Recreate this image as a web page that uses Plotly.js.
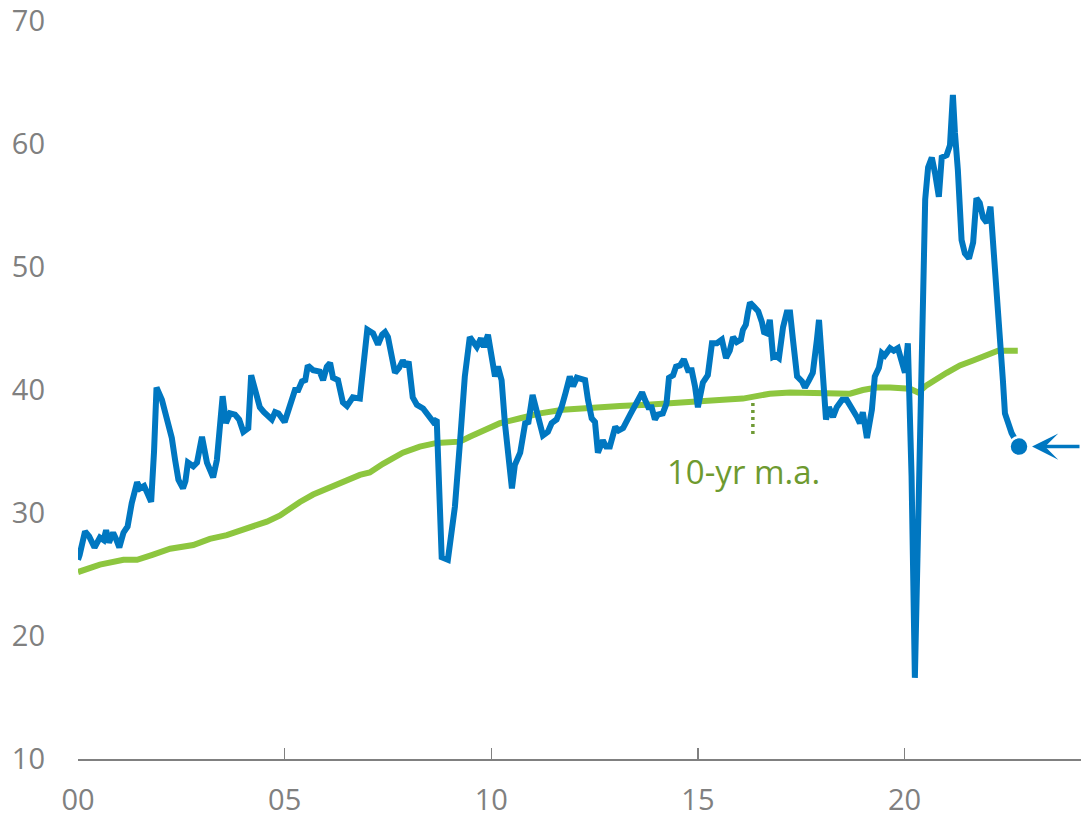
<!DOCTYPE html>
<html>
<head>
<meta charset="utf-8">
<script src="https://cdn.plot.ly/plotly-3.0.1.min.js"></script>
<style>
html,body{margin:0;padding:0;background:#fff;}
#chart{width:1081px;height:820px;}
</style>
</head>
<body>
<div id="chart"></div>
<script>
// Blue series (decimal years, values)
const seriesYears = [
2000.00,2000.04,2000.17,2000.27,2000.40,2000.53,2000.62,2000.68,2000.75,2000.85,2000.92,
2001.00,2001.10,2001.20,2001.30,2001.43,2001.50,2001.60,2001.68,2001.77,2001.84,2001.90,
2002.03,2002.15,2002.27,2002.35,2002.43,2002.54,2002.60,2002.66,2002.79,2002.88,
2003.00,2003.12,2003.27,2003.36,2003.45,2003.50,2003.58,2003.68,2003.80,2003.90,
2004.00,2004.12,2004.19,2004.28,2004.40,2004.50,2004.57,2004.69,2004.77,2004.85,
2005.00,2005.13,2005.25,2005.33,2005.42,2005.50,2005.56,2005.69,2005.85,2005.93,
2006.02,2006.10,2006.17,2006.29,2006.41,2006.51,2006.65,2006.82,2006.90,
2007.00,2007.14,2007.26,2007.36,2007.43,2007.50,2007.60,2007.67,2007.77,2007.86,2007.94,
2008.00,2008.10,2008.20,2008.35,2008.47,2008.60,2008.68,2008.72,2008.80,2008.95,
2009.12,2009.26,2009.36,2009.48,2009.58,2009.65,2009.75,2009.82,2009.92,
2010.00,2010.09,2010.16,2010.25,2010.33,2010.41,2010.50,2010.57,2010.70,2010.82,2010.90,
2011.00,2011.10,2011.18,2011.25,2011.37,2011.46,2011.58,2011.70,2011.80,2011.90,2011.98,
2012.07,2012.17,2012.27,2012.34,2012.43,2012.51,2012.58,2012.70,2012.78,2012.87,
2013.00,2013.08,2013.19,2013.36,2013.53,2013.65,2013.72,2013.80,2013.88,2013.96,
2014.03,2014.15,2014.24,2014.30,2014.40,2014.47,2014.57,2014.66,2014.76,2014.85,2014.93,
2015.00,2015.12,2015.24,2015.34,2015.46,2015.58,2015.68,2015.77,2015.85,2015.94,
2016.04,2016.09,2016.16,2016.21,2016.26,2016.35,2016.46,2016.55,2016.60,2016.67,2016.74,2016.82,2016.88,2016.96,
2017.06,2017.15,2017.23,2017.30,2017.40,2017.52,2017.59,2017.69,2017.78,2017.88,2017.93,
2018.00,2018.04,2018.10,2018.17,2018.27,2018.36,2018.49,2018.60,2018.72,2018.85,2018.92,2018.99,
2019.09,2019.21,2019.28,2019.38,2019.45,2019.52,2019.65,2019.74,2019.84,2019.94,
2020.01,2020.08,2020.17,2020.25,2020.33,2020.42,2020.50,2020.57,2020.66,2020.74,2020.83,2020.90,
2021.02,2021.10,2021.17,2021.22,2021.29,2021.38,2021.46,2021.56,2021.66,2021.74,2021.82,2021.90,2021.99,
2022.08,2022.17,2022.26,2022.38,2022.43,2022.50,2022.59,2022.77
];
const seriesValues = [
26.2,26.6,28.5,28.1,27.2,28.0,27.8,28.6,27.6,28.4,27.9,
27.2,28.4,28.9,30.8,32.5,32.0,32.2,31.6,30.9,35.0,40.2,
39.2,37.6,36.1,34.3,32.7,32.0,32.6,34.1,33.8,34.1,
36.2,34.1,32.9,34.3,37.0,39.5,37.3,38.1,38.0,37.6,
36.6,36.9,41.2,40.2,38.6,38.2,38.0,37.6,38.2,38.1,
37.4,38.6,40.0,40.0,40.7,40.8,42.0,41.6,41.5,40.8,
41.9,42.2,41.0,40.8,39.0,38.7,39.4,39.3,42.4,
44.9,44.6,43.7,44.5,44.7,44.3,42.8,41.4,41.8,42.4,41.9,
42.3,39.4,38.8,38.5,38.0,37.4,37.6,33.7,26.4,26.2,
30.5,36.5,41.1,44.3,43.9,43.5,44.2,43.5,44.5,
42.7,41.1,41.9,40.8,37.3,34.9,32.0,33.9,34.9,37.3,37.4,
39.6,38.4,37.3,36.3,36.6,37.3,37.6,38.6,39.8,41.1,40.3,
41.0,40.9,40.8,39.2,37.7,37.4,34.9,35.9,35.4,35.4,
37.0,36.7,36.9,38.0,39.0,39.8,39.2,38.6,38.6,37.6,
38.0,38.1,38.9,41.0,41.2,41.9,42.0,42.5,41.6,41.6,40.3,
38.6,40.6,41.2,43.8,43.8,44.1,42.6,43.2,44.3,43.9,
44.1,44.9,45.3,46.3,47.1,46.8,46.4,45.5,44.7,44.6,45.7,42.7,42.8,42.6,
45.1,46.3,46.3,44.1,41.1,40.7,40.2,40.8,41.4,44.1,45.7,
42.4,40.0,37.6,38.6,37.8,38.6,39.2,39.2,38.6,37.8,37.3,38.2,
36.1,38.4,41.1,41.8,43.0,42.8,43.4,43.2,43.4,42.4,
41.4,43.8,33.0,16.6,30.5,46.5,55.5,58.1,58.9,57.6,55.7,58.9,
59.1,59.9,64.0,60.9,57.9,52.2,51.1,50.7,52.0,55.6,55.2,54.0,53.6,
54.9,51.1,45.9,40.8,38.1,37.2,36.5,35.4
];
// Green 10-yr moving average
const maYears = [
2000.00,2000.53,2001.10,2001.43,2001.80,2002.23,2002.79,2003.19,2003.60,2004.24,2004.57,2004.89,
2005.05,2005.37,2005.69,2006.02,2006.41,2006.82,2007.06,2007.38,2007.86,2008.27,2008.68,
2009.00,2009.24,2009.48,2009.80,2010.21,2010.70,2011.18,2011.73,2012.39,2013.11,2013.77,
2014.40,2014.81,2015.29,2015.61,2016.09,2016.33,2016.74,2017.23,2018.03,2018.68,2018.99,
2019.33,2019.65,2020.13,2020.33,2020.54,2021.02,2021.34,2021.66,2021.99,2022.26,2022.74
];
const maValues = [
25.2,25.8,26.2,26.2,26.6,27.1,27.4,27.9,28.2,28.9,29.3,29.8,
30.2,30.9,31.5,32.0,32.6,33.1,33.3,34.0,34.9,35.4,35.7,
35.7,35.8,36.2,36.7,37.3,37.7,38.1,38.4,38.6,38.7,38.8,
38.9,39.0,39.1,39.2,39.3,39.45,39.7,39.8,39.7,39.7,40.0,
40.2,40.2,40.1,39.8,40.4,41.4,42.0,42.4,42.9,43.2,43.2
];
const xTickVals = [2000,2005,2010,2015,2020];
const xTickText = ['00','05','10','15','20'];
const yTickVals = [10,20,30,40,50,60,70];
const maLabel = '10-yr m.a.';
const maLabelYear = 2016.33;
const maLabelTextYear = 2016.1;
const maLabelTextValue = 33.4;
const maLeaderBottom = 36.1;

const BLUE = '#0077c1';
const GREEN = '#8dc63f';
const GREY = '#808080';

const lastX = seriesYears[seriesYears.length-1];
const lastY = seriesValues[seriesValues.length-1];
const maAtLabel = maValues[maYears.indexOf(maLabelYear)];

const traces = [
  {x: maYears, y: maValues, type:'scatter', mode:'lines',
   line:{color:GREEN, width:6}, hoverinfo:'skip'},
  {x: seriesYears, y: seriesValues, type:'scatter', mode:'lines',
   line:{color:BLUE, width:6}, hoverinfo:'skip'},
  {x:[lastX], y:[lastY], type:'scatter', mode:'markers', cliponaxis:false,
   marker:{color:BLUE, size:19, line:{color:'#ffffff', width:2.5}}, hoverinfo:'skip'}
];

const tickFont = {family:'"Open Sans", sans-serif', size:29, color:GREY};

const layout = {
  width:1081, height:820,
  margin:{l:78, r:0, t:21, b:61},
  paper_bgcolor:'#ffffff', plot_bgcolor:'#ffffff',
  showlegend:false,
  xaxis:{range:[2000,2024.27], tickvals:xTickVals, ticktext:xTickText,
    showline:true, linecolor:GREY, linewidth:2, ticks:'inside', ticklen:11, tickwidth:1.5, tickcolor:GREY,
    showgrid:false, zeroline:false, tickfont:tickFont, ticklabelstandoff:14, ticklabeloverflow:'allow', fixedrange:true},
  yaxis:{range:[10,70], tickvals:yTickVals, showline:false, ticks:'', showgrid:false, zeroline:false,
    tickfont:tickFont, ticklabelstandoff:32, ticklabeloverflow:'allow', fixedrange:true},
  shapes:[
    {type:'line', xref:'x', yref:'y', x0:maLabelYear, x1:maLabelYear, y0:maAtLabel-0.5, y1:maLeaderBottom,
     line:{color:'#6f9a35', width:3.5, dash:'3px,4px'}}
  ],
  annotations:[
    {x:maLabelTextYear, y:maLabelTextValue, xref:'x', yref:'y', text:maLabel, showarrow:false,
     font:{family:'"Open Sans", sans-serif', size:33, color:'#6e9a2f'}, xanchor:'center', yanchor:'middle'},
    {x:lastX, y:lastY, xref:'x', yref:'y', text:'', showarrow:true, ax:62, ay:0,
     arrowhead:3, arrowsize:1.25, arrowwidth:3.5, arrowcolor:BLUE, standoff:13}
  ]
};

Plotly.newPlot('chart', traces, layout, {staticPlot:true, displayModeBar:false});
</script>
</body>
</html>
